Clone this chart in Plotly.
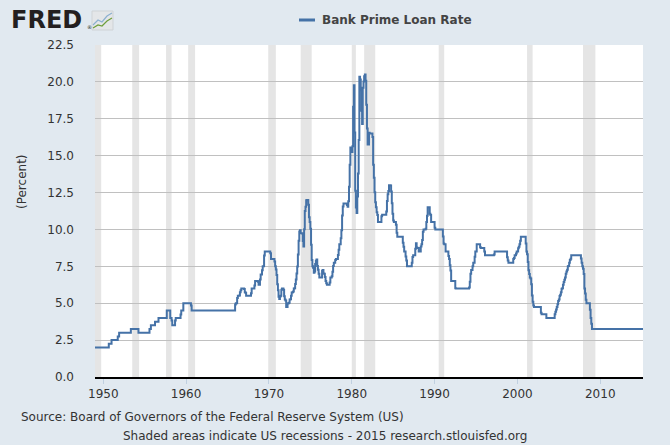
import plotly.graph_objects as go

# Bank Prime Loan Rate (monthly), stored as change points: the rate holds until the next date
dates = [
    "1949-01", "1950-09", "1951-01", "1951-10", "1951-12", "1953-05", "1954-04", "1955-08",
    "1955-10", "1956-04", "1956-09", "1957-09", "1958-02", "1958-04", "1958-05", "1958-09",
    "1958-10", "1959-05", "1959-06", "1959-09", "1960-08", "1960-09", "1965-12", "1966-01",
    "1966-03", "1966-04", "1966-06", "1966-07", "1966-08", "1966-09", "1967-01", "1967-02",
    "1967-03", "1967-04", "1967-11", "1967-12", "1968-04", "1968-05", "1968-09", "1968-10",
    "1968-12", "1969-01", "1969-03", "1969-04", "1969-06", "1969-07", "1970-03", "1970-04",
    "1970-09", "1970-10", "1970-11", "1970-12",
    "1971-01", "1971-02", "1971-03", "1971-04", "1971-05", "1971-06", "1971-07", "1971-08",
    "1971-10", "1971-11", "1971-12",
    "1972-01", "1972-02", "1972-04", "1972-05", "1972-06", "1972-07", "1972-08", "1972-09",
    "1972-10", "1972-11", "1972-12",
    "1973-01", "1973-02", "1973-03", "1973-04", "1973-05", "1973-06", "1973-07", "1973-08",
    "1973-09", "1973-10", "1973-11",
    "1974-01", "1974-02", "1974-03", "1974-04", "1974-05", "1974-06", "1974-07", "1974-08",
    "1974-10", "1974-11", "1974-12",
    "1975-01", "1975-02", "1975-03", "1975-04", "1975-05", "1975-06", "1975-07", "1975-08",
    "1975-09", "1975-10", "1975-11", "1975-12",
    "1976-01", "1976-02", "1976-06", "1976-07", "1976-08", "1976-09", "1976-10", "1976-11",
    "1976-12",
    "1977-01", "1977-05", "1977-06", "1977-08", "1977-09", "1977-10", "1977-11",
    "1978-01", "1978-02", "1978-05", "1978-06", "1978-07", "1978-09", "1978-10", "1978-11",
    "1978-12",
    "1979-01", "1979-06", "1979-07", "1979-08", "1979-09", "1979-10", "1979-11", "1979-12",
    "1980-01", "1980-02", "1980-03", "1980-04", "1980-05", "1980-06", "1980-07", "1980-08",
    "1980-09", "1980-10", "1980-11", "1980-12",
    "1981-01", "1981-02", "1981-03", "1981-04", "1981-05", "1981-06", "1981-07", "1981-08",
    "1981-09", "1981-10", "1981-11", "1981-12",
    "1982-02", "1982-03", "1982-07", "1982-08", "1982-09", "1982-10", "1982-11", "1982-12",
    "1983-01", "1983-02", "1983-03", "1983-08", "1983-09",
    "1984-03", "1984-04", "1984-05", "1984-06", "1984-07", "1984-09", "1984-10", "1984-11",
    "1984-12",
    "1985-01", "1985-02", "1985-05", "1985-06", "1985-07",
    "1986-03", "1986-04", "1986-05", "1986-07", "1986-08", "1986-09",
    "1987-04", "1987-05", "1987-06", "1987-09", "1987-10", "1987-11", "1987-12",
    "1988-02", "1988-03", "1988-05", "1988-06", "1988-07", "1988-08", "1988-09", "1988-12",
    "1989-01", "1989-02", "1989-03", "1989-06", "1989-07", "1989-08",
    "1990-01", "1990-02",
    "1991-01", "1991-02", "1991-03", "1991-05", "1991-09", "1991-10", "1991-11", "1991-12",
    "1992-01", "1992-07", "1992-08",
    "1994-03", "1994-04", "1994-05", "1994-06", "1994-08", "1994-09", "1994-11", "1994-12",
    "1995-02", "1995-07", "1995-08",
    "1996-01", "1996-02", "1997-03", "1997-04",
    "1998-10", "1998-11", "1998-12",
    "1999-07", "1999-08", "1999-09", "1999-11", "1999-12",
    "2000-02", "2000-03", "2000-04", "2000-05", "2000-06",
    "2001-01", "2001-02", "2001-03", "2001-04", "2001-05", "2001-06", "2001-07", "2001-08",
    "2001-09", "2001-10", "2001-11", "2001-12",
    "2002-01", "2002-11", "2002-12", "2003-07",
    "2004-07", "2004-08", "2004-09", "2004-10", "2004-11", "2004-12",
    "2005-01", "2005-02", "2005-03", "2005-04", "2005-05", "2005-06", "2005-07", "2005-08",
    "2005-09", "2005-10", "2005-11", "2005-12",
    "2006-01", "2006-02", "2006-03", "2006-04", "2006-05", "2006-06", "2006-07",
    "2007-09", "2007-10", "2007-11", "2007-12",
    "2008-01", "2008-02", "2008-03", "2008-04", "2008-05", "2008-10", "2008-11", "2008-12",
    "2009-01", "2015-03",
]
rates = [
    2.00, 2.25, 2.50, 2.75, 3.00, 3.25, 3.00, 3.25,
    3.50, 3.75, 4.00, 4.50, 4.00, 3.83, 3.50, 3.83,
    4.00, 4.23, 4.50, 5.00, 4.85, 4.50, 4.92, 5.00,
    5.35, 5.50, 5.52, 5.75, 5.88, 6.00, 5.96, 5.75,
    5.71, 5.50, 5.68, 6.00, 6.20, 6.50, 6.45, 6.25,
    6.60, 6.95, 7.24, 7.50, 8.23, 8.50, 8.39, 8.00,
    7.83, 7.50, 7.28, 6.92,
    6.29, 5.88, 5.44, 5.28, 5.46, 5.50, 5.91, 6.00,
    5.91, 5.47, 5.25,
    5.18, 4.75, 4.98, 5.00, 5.04, 5.25, 5.27, 5.50,
    5.73, 5.75, 5.79,
    6.00, 6.02, 6.30, 6.61, 7.01, 7.49, 8.30, 9.23,
    9.86, 9.94, 9.75,
    9.73, 9.21, 8.85, 10.02, 11.25, 11.54, 11.98, 12.00,
    11.68, 10.83, 10.50,
    10.05, 8.96, 7.93, 7.50, 7.40, 7.07, 7.15, 7.66,
    7.88, 7.96, 7.53, 7.26,
    7.00, 6.75, 7.20, 7.25, 7.01, 7.00, 6.78, 6.50,
    6.35,
    6.25, 6.41, 6.75, 6.83, 7.13, 7.52, 7.75,
    7.93, 8.00, 8.27, 8.63, 9.00, 9.41, 9.94, 10.94,
    11.55,
    11.75, 11.65, 11.54, 11.91, 12.90, 14.39, 15.55, 15.30,
    15.25, 15.63, 18.31, 19.77, 16.57, 12.63, 11.48, 11.12,
    12.23, 13.79, 16.06, 20.35,
    20.16, 19.43, 18.05, 17.15, 19.61, 20.03, 20.39, 20.50,
    20.08, 18.45, 16.84, 15.75,
    16.56, 16.50, 16.26, 14.39, 13.50, 12.52, 11.85, 11.50,
    11.16, 10.98, 10.50, 10.89, 11.00,
    11.21, 11.93, 12.39, 12.60, 13.00, 12.97, 12.58, 11.77,
    11.06,
    10.61, 10.50, 10.31, 9.78, 9.50,
    9.10, 8.83, 8.50, 8.16, 7.90, 7.50,
    7.75, 8.14, 8.25, 8.70, 9.07, 8.78, 8.75,
    8.51, 8.50, 8.84, 9.00, 9.29, 9.84, 10.00, 10.05,
    10.50, 10.93, 11.50, 11.07, 10.98, 10.50,
    10.11, 10.00,
    9.52, 9.05, 9.00, 8.50, 8.20, 8.00, 7.58, 7.21,
    6.50, 6.02, 6.00,
    6.06, 6.45, 6.99, 7.25, 7.51, 7.75, 8.15, 8.50,
    9.00, 8.80, 8.75,
    8.50, 8.25, 8.30, 8.50,
    8.12, 7.89, 7.75,
    8.00, 8.06, 8.25, 8.37, 8.50,
    8.73, 8.83, 9.00, 9.24, 9.50,
    9.05, 8.50, 8.32, 7.80, 7.24, 6.98, 6.75, 6.67,
    6.28, 5.53, 5.10, 4.84,
    4.75, 4.35, 4.25, 4.00,
    4.25, 4.43, 4.58, 4.75, 4.93, 5.15,
    5.25, 5.49, 5.58, 5.75, 5.98, 6.01, 6.25, 6.44,
    6.59, 6.75, 7.00, 7.15,
    7.26, 7.50, 7.53, 7.75, 7.93, 8.02, 8.25,
    8.03, 7.74, 7.50, 7.33,
    6.98, 6.00, 5.66, 5.24, 5.00, 4.56, 4.00, 3.61,
    3.25, 3.25,
]

# NBER recessions (shaded)
rec_start = ["1949-01-01", "1953-07-01", "1957-08-01", "1960-04-01", "1969-12-01", "1973-11-01",
             "1980-01-01", "1981-07-01", "1990-07-01", "2001-03-01", "2007-12-01"]
rec_end = ["1949-10-01", "1954-05-01", "1958-04-01", "1961-02-01", "1970-11-01", "1975-03-01",
           "1980-07-01", "1982-11-01", "1991-03-01", "2001-11-01", "2009-06-01"]

x_ticks = ["1950-01-01", "1960-01-01", "1970-01-01", "1980-01-01", "1990-01-01", "2000-01-01", "2010-01-01"]
x_labels = ["1950", "1960", "1970", "1980", "1990", "2000", "2010"]
y_ticks = [0, 2.5, 5, 7.5, 10, 12.5, 15, 17.5, 20, 22.5]

series_name = "Bank Prime Loan Rate"
line_color = "#4572a7"
font = "DejaVu Sans"

# plot area in pixels, used to place the decorations
L, R, T, B = 95, 643, 45, 377
W, H = 670, 445


def px(x):
    return (x - L) / (R - L)


def py(y):
    return (B - y) / (B - T)


fig = go.Figure()
fig.add_trace(go.Scatter(
    x=[d + "-01" for d in dates], y=rates, mode="lines", line_shape="hv",
    name=series_name, line=dict(color=line_color, width=2), showlegend=False,
))

# recession bars under the grid
for s, e in zip(rec_start, rec_end):
    fig.add_vrect(x0=s, x1=e, fillcolor="#e5e5e5", line_width=0, layer="below")

# legend drawn by hand, FRED style
fig.add_shape(type="line", xref="paper", yref="paper", x0=px(299), x1=px(315), y0=py(20), y1=py(20),
              line=dict(color=line_color, width=3))
fig.add_annotation(xref="paper", yref="paper", x=px(320), y=py(20), text="<b>" + series_name + "</b>",
                   showarrow=False, xanchor="left", yanchor="middle",
                   font=dict(family=font, size=12, color="#444444"))

# FRED logo
fig.add_annotation(xref="paper", yref="paper", x=px(9), y=py(20), text="<b>FRED</b>",
                   showarrow=False, xanchor="left", yanchor="middle",
                   font=dict(family=font, size=24, color="#231f20"))
fig.add_annotation(xref="paper", yref="paper", x=px(85), y=py(27), text="®",
                   showarrow=False, xanchor="left", yanchor="middle",
                   font=dict(family=font, size=5, color="#231f20"))
fig.add_shape(type="rect", xref="paper", yref="paper", x0=px(92), x1=px(113), y0=py(30), y1=py(11),
              fillcolor="#e4e6e8", line=dict(color="#cfd3d6", width=1))
icon_blue = "M {} {} L {} {} L {} {} L {} {} L {} {}".format(
    px(93), py(25), px(98), py(20), px(102), py(22), px(107), py(16), px(112), py(13))
icon_green = "M {} {} L {} {} L {} {} L {} {} L {} {}".format(
    px(93), py(28), px(98), py(25), px(102), py(26), px(107), py(21), px(112), py(18))
fig.add_shape(type="path", xref="paper", yref="paper", path=icon_blue, line=dict(color="#8cb0d0", width=1.2))
fig.add_shape(type="path", xref="paper", yref="paper", path=icon_green, line=dict(color="#6e9e3a", width=1.2))

# y axis title
fig.add_annotation(xref="paper", yref="paper", x=px(22), y=py(182), text="(Percent)", textangle=-90,
                   showarrow=False, xanchor="center", yanchor="middle",
                   font=dict(family=font, size=12, color="#333333"))

# footer
fig.add_annotation(xref="paper", yref="paper", x=px(19), y=py(417),
                   text="Source: Board of Governors of the Federal Reserve System (US)",
                   showarrow=False, xanchor="left", yanchor="middle",
                   font=dict(family=font, size=12, color="#333333"))
fig.add_annotation(xref="paper", yref="paper", x=px(325), y=py(436),
                   text="Shaded areas indicate US recessions - 2015 research.stlouisfed.org",
                   showarrow=False, xanchor="center", yanchor="middle",
                   font=dict(family=font, size=12, color="#333333"))

fig.update_layout(
    width=W, height=H,
    margin=dict(l=L, r=W - R, t=T, b=H - B),
    paper_bgcolor="#e1e9f0", plot_bgcolor="#ffffff",
    font=dict(family=font, size=12, color="#333333"),
    showlegend=False,
    xaxis=dict(
        type="date", range=["1949-01-01", "2015-03-01"],
        tickvals=x_ticks, ticktext=x_labels,
        showgrid=False, zeroline=False,
        showline=True, linecolor="#000000", linewidth=2,
        ticks="outside", ticklen=5, tickcolor="#c0d0e0",
        tickfont=dict(family=font, size=12, color="#333333"),
    ),
    yaxis=dict(
        range=[0, 22.5], tickvals=y_ticks, tickformat=".1f",
        showgrid=True, gridcolor="#c0c0c0", gridwidth=1,
        zeroline=False, showline=False, ticks="",
        ticklabelstandoff=20,
        tickfont=dict(family=font, size=12, color="#333333"),
    ),
)

# the page's default body margin would shift the 670x445 figure off the window
fig.write_html("out.html", config={"displayModeBar": False},
               post_script="document.body.style.margin='0';")
